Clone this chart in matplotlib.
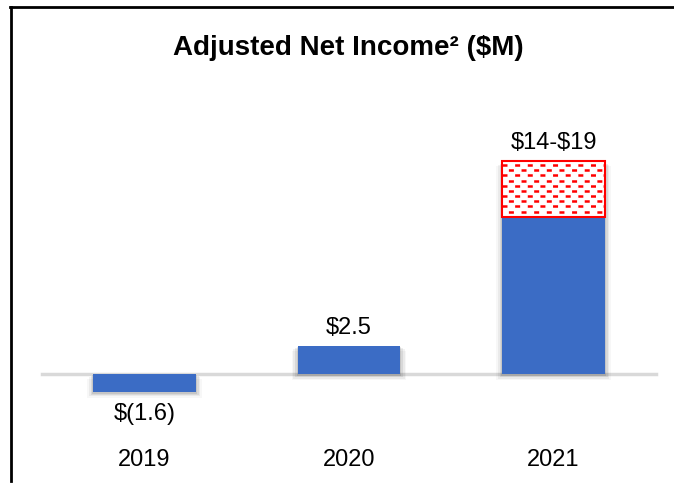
import matplotlib
matplotlib.use("Agg")
import numpy as np
import matplotlib.pyplot as plt
from matplotlib.patches import Rectangle
from matplotlib.lines import Line2D

plt.rcParams['font.family'] = ['Liberation Sans', 'DejaVu Sans']
plt.rcParams['text.parse_math'] = False
plt.rcParams['lines.scale_dashes'] = False

# data
years = ["2019", "2020", "2021"]
values = [-1.6, 2.5, 14]
range_top = [None, None, 19]
labels = ["$(1.6)", "$2.5", "$14-$19"]

blue = "#3B6CC5"
red = "#FF0000"

fig = plt.figure(figsize=(6.74, 4.83), dpi=100)
ax = fig.add_axes([0, 0, 1, 1])
ax.set_xlim(-0.707, 2.589)
ax.set_ylim(-9.73, 33.4)
ax.axis("off")

x = list(range(len(years)))
w = 0.5

# baseline
ax.plot([-0.5, 2.5], [0, 0], color="#D9D9D9", lw=2.5, zorder=1)

# soft shadows under bars
for xi, v, t in zip(x, values, range_top):
    top = t if t is not None else v
    lo, hi = min(0, top), max(0, top)
    for k, a in enumerate([0.09, 0.07, 0.05, 0.03]):
        d = 0.006 + k * 0.008
        ax.add_patch(Rectangle((xi - w / 2 - d, lo - 0.2 - k * 0.1),
                               w + 2 * d, hi - lo + 0.1,
                               facecolor="black", edgecolor="none",
                               alpha=a, zorder=2))

bars = ax.bar(x, values, width=w, color=blue, zorder=3)

# range segment filled with staggered red dashes
for xi, v, t in zip(x, values, range_top):
    if t is None:
        continue
    seg = ax.bar(xi, t - v, bottom=v, width=w, facecolor="white",
                 edgecolor="none", zorder=3)[0]
    for i, yy in enumerate(np.arange(t - 0.35, v, -0.46)):
        off = 0 if i % 2 == 0 else 4.5
        ln, = ax.plot([xi - w / 2, xi + w / 2], [yy, yy], color=red, lw=1.8,
                      linestyle=(off, (3.6, 5.5)), zorder=4)
        ln.set_clip_path(seg)
    ax.bar(xi, t - v, bottom=v, width=w, fill=False,
           edgecolor=red, lw=1.5, zorder=5)

# value labels
for xi, v, t, lab in zip(x, values, range_top, labels):
    if v < 0:
        ax.annotate(lab, (xi, v), xytext=(0, -8), textcoords="offset points",
                    ha="center", va="top", fontsize=17)
    else:
        top = t if t is not None else v
        ax.annotate(lab, (xi, top), xytext=(0, 5), textcoords="offset points",
                    ha="center", va="bottom", fontsize=17)

# year labels
for xi, yr in zip(x, years):
    ax.text(xi, -7.7, yr, ha="center", va="center", fontsize=17)

fig.text(0.517, 0.90, "Adjusted Net Income\u00b2 ($M)",
         ha="center", va="center", fontsize=20, fontweight="bold")

# frame lines
fig.add_artist(Line2D([0.015, 1.0], [0.985, 0.985], color="black", lw=2))
fig.add_artist(Line2D([0.017, 0.017], [0.985, 0.004], color="black", lw=2))

fig.savefig("out.png", dpi=100)
